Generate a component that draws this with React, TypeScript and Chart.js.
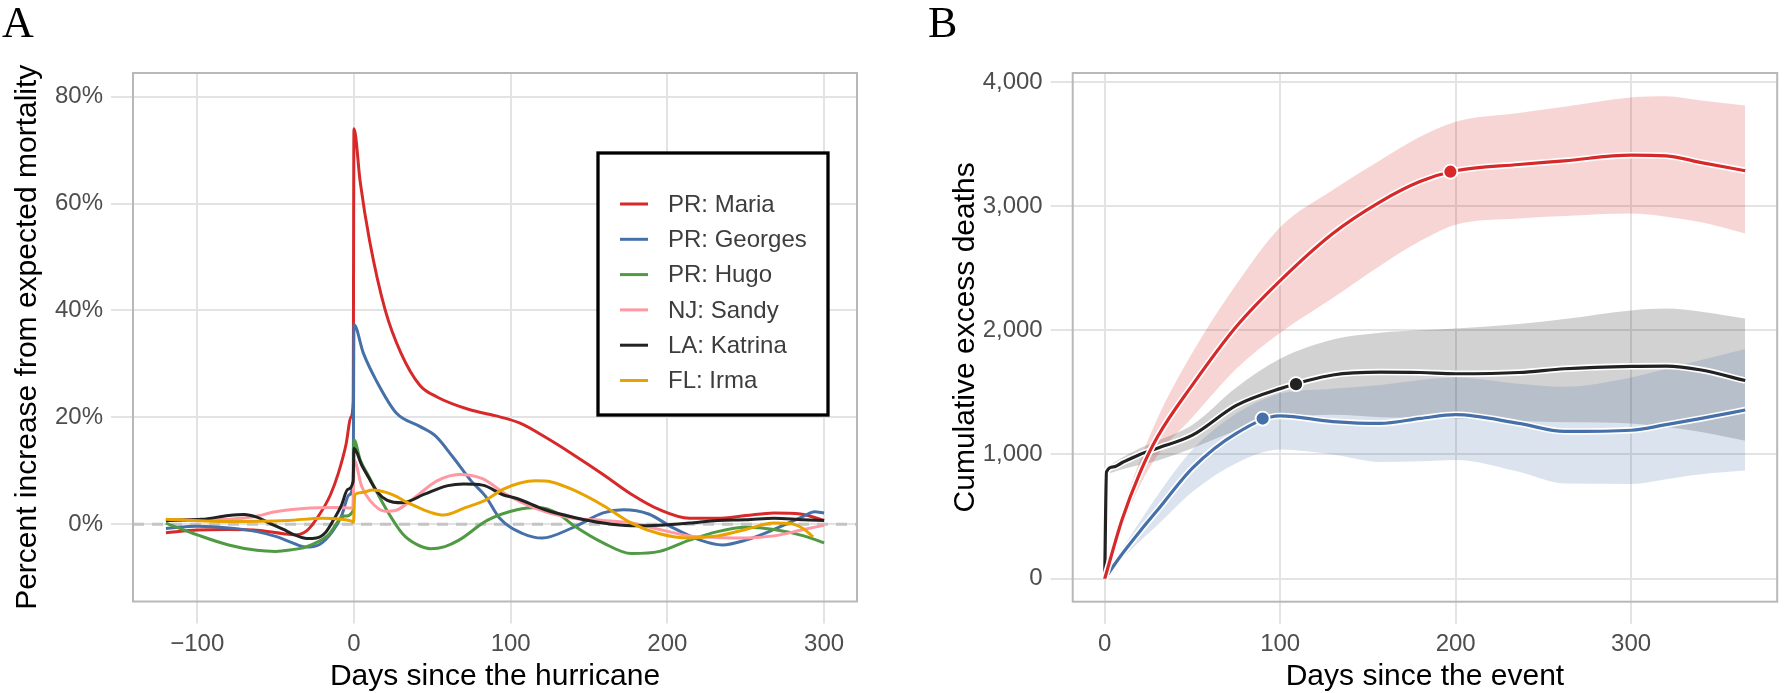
import React, { useEffect, useRef } from 'react';
import { Chart, registerables } from 'chart.js';

Chart.register(...registerables);

const FONT = "'Liberation Sans', Arial, sans-serif";
const SERIF = "'Liberation Serif', 'Times New Roman', serif";
const GRID = '#e3e3e3';
const BORDER = '#b8b8b8';
const TICK_TEXT = '#4d4d4d';

// ---------- Panel A data: [day, percent] ----------
const hurricaneLabels = ['PR: Maria', 'PR: Georges', 'PR: Hugo', 'NJ: Sandy', 'LA: Katrina', 'FL: Irma'];
const hurricaneColors = ['#d7292a', '#4670a8', '#4f9a42', '#ff98a3', '#222222', '#e9a300'];

const maria = [[-120, -1.6], [-100, -1.1], [-80, -1.0], [-60, -1.2], [-45, -1.8], [-38, -2.0], [-30, -1.2], [-22, 1.8], [-15, 5.5], [-10, 9.5], [-5, 15], [-2, 20], [-0.5, 23], [0, 74], [4, 64], [10, 53], [20, 40], [30, 32], [42, 26], [53, 23.8], [74, 21.4], [90, 20.3], [106, 18.9], [122, 16.3], [140, 13], [159, 9.3], [177, 5.6], [195, 2.7], [214, 1.1], [232, 1.1], [250, 1.6], [268, 2.1], [285, 1.9], [300, 0.7]];
const georges = [[-120, -0.8], [-100, -0.4], [-80, -0.7], [-62, -1.4], [-50, -2.3], [-40, -3.4], [-31, -4.3], [-22, -3.8], [-14, -1.5], [-8, 1.5], [-3, 5.5], [-0.5, 8], [0, 37.3], [6, 32], [14, 27], [27, 20.8], [42, 18.3], [52, 16.5], [63, 12.6], [75, 8], [84, 5.2], [93, 1.1], [108, -1.8], [120, -2.6], [140, -0.6], [159, 2.1], [172, 2.7], [188, 1.9], [203, -0.6], [221, -3], [235, -3.9], [250, -3], [268, -1], [287, 1.5], [294, 2.3], [300, 2.1]];
const hugo = [[-120, 0.2], [-100, -2.0], [-80, -3.9], [-62, -4.9], [-50, -5.1], [-40, -4.8], [-31, -4.3], [-17, -2.2], [-6, 1.5], [-0.5, 2.5], [0, 15.8], [4, 12], [9, 9.2], [20, 3.1], [31, -1.8], [40, -3.8], [49, -4.6], [58, -4.2], [67, -3], [85, 0.7], [104, 2.7], [118, 3.1], [130, 2.0], [140, -0.2], [159, -3.5], [177, -5.5], [195, -5.1], [214, -3], [232, -1.4], [250, -0.6], [268, -1], [287, -2.2], [300, -3.5]];
const sandy = [[-120, 0.8], [-97, 0.8], [-64, 1.4], [-50, 2.3], [-28, 3.0], [-13, 3.1], [-0.5, 3.0], [0, 12], [5, 7], [10, 4.5], [20, 2.4], [27, 2.6], [38, 4.8], [53, 8.1], [67, 9.3], [82, 8.5], [97, 5.6], [118, 2.7], [140, 1.1], [159, 0.7], [177, 0.2], [195, -1], [214, -2.2], [232, -2.5], [250, -2.6], [268, -2.2], [287, -1], [300, -0.2]];
const katrina = [[-120, 0.7], [-97, 0.9], [-80, 1.6], [-70, 1.8], [-62, 1.3], [-54, 0.2], [-45, -1.0], [-38, -2.0], [-30, -2.7], [-24, -2.6], [-18, -1.5], [-13, 0.8], [-8, 3.5], [-4, 6.5], [-0.5, 8], [0, 14.2], [5, 11], [9, 8.9], [15, 6], [21, 4.5], [31, 4], [45, 5.6], [60, 7.2], [70, 7.5], [82, 7.3], [95, 5.5], [104, 4.8], [122, 2.7], [140, 1.3], [159, 0.2], [177, -0.3], [195, -0.2], [214, 0.2], [232, 0.7], [250, 0.8], [268, 1.1], [287, 0.8], [300, 0.7]];
const irma = [[-120, 0.9], [-80, 0.5], [-42, 0.7], [-20, 1.1], [-2, 0.6], [-0.3, 0.3], [0.5, 5.5], [5, 5.9], [12, 6.4], [20, 6.0], [27, 5.2], [33, 4.2], [42, 3.0], [50, 2.1], [57, 1.7], [71, 3.1], [84, 4.5], [95, 6.5], [106, 7.7], [116, 8.1], [126, 7.9], [140, 6.4], [159, 3.5], [177, 0.2], [195, -1.8], [214, -2.6], [232, -2.2], [250, -1], [268, 0.2], [278, 0.1], [287, -0.9], [293, -2.4]];
const hurricaneSeries = [maria, georges, hugo, sandy, katrina, irma];

const xTicksA = [-100, 0, 100, 200, 300];
const yTicksA = [0, 20, 40, 60, 80];
const xRangeA = [-141, 321];
const yRangeA = [-14.48, 84.43];

// ---------- Panel B data ----------
const bDays = [0, 10, 20, 30, 50, 75, 100, 130, 157, 180, 200, 236, 262, 300, 320, 340, 365];
const mariaCum = [0, 480, 850, 1140, 1560, 2030, 2400, 2780, 3035, 3200, 3285, 3335, 3365, 3410, 3405, 3350, 3285];
const mariaUpper = [0, 540, 950, 1290, 1820, 2370, 2830, 3130, 3370, 3560, 3680, 3750, 3800, 3875, 3885, 3850, 3810];
const mariaLower = [0, 420, 750, 990, 1300, 1690, 1980, 2260, 2520, 2720, 2850, 2900, 2920, 2940, 2915, 2870, 2780];

const georgesCum = [0, 200, 380, 550, 890, 1170, 1310, 1265, 1250, 1290, 1320, 1250, 1185, 1195, 1240, 1290, 1358];
const georgesUpper = [0, 240, 460, 670, 1040, 1330, 1490, 1530, 1560, 1600, 1620, 1570, 1545, 1620, 1690, 1760, 1850];
const georgesLower = [0, 160, 300, 430, 700, 930, 1040, 1000, 940, 945, 955, 860, 765, 762, 800, 840, 870];

const katrinaDays = [0, 1, 5, 10, 20, 30, 50, 75, 100, 130, 157, 180, 200, 236, 262, 300, 320, 340, 365];
const katrinaCum = [0, 860, 900, 935, 1000, 1050, 1155, 1395, 1530, 1640, 1663, 1660, 1650, 1660, 1690, 1710, 1712, 1680, 1595];
const katrinaBandDays = [1, 10, 20, 30, 50, 75, 100, 130, 157, 180, 200, 236, 262, 300, 320, 340, 365];
const katrinaUpper = [895, 975, 1050, 1110, 1240, 1540, 1770, 1925, 1980, 2000, 2015, 2050, 2090, 2160, 2175, 2150, 2095];
const katrinaLower = [840, 880, 915, 950, 1050, 1190, 1290, 1320, 1300, 1295, 1290, 1270, 1260, 1250, 1220, 1180, 1110];

const markerMaria = [197, 3277];
const markerKatrina = [109, 1566];
const markerGeorges = [90, 1289];

const xTicksB = [0, 100, 200, 300];
const yTicksB = [0, 1000, 2000, 3000, 4000];
const xRangeB = [-18.25, 383.25];
const yRangeB = [-186, 4072];

// ---------- helpers ----------
const pts = (arr: number[][]) => arr.map(([x, y]) => ({ x, y }));
const zip = (xs: number[], ys: number[]) => xs.map((x, i) => ({ x, y: ys[i] }));
const minusFmt = (v: number) => (v < 0 ? '\u2212' + Math.abs(v) : String(v));
const thousands = (v: number) => v.toLocaleString('en-US');

function gridOpts() {
  return { color: GRID, lineWidth: 2, drawTicks: true, tickLength: 22, tickColor: GRID, tickWidth: 2 };
}

function framePlugin(tag: string, tagX: number, withLegend: boolean) {
  return {
    id: 'frame_' + tag,
    afterDatasetsDraw(chart: any) {
      const { ctx, chartArea: ca } = chart;
      ctx.save();
      ctx.strokeStyle = BORDER;
      ctx.lineWidth = 2;
      ctx.strokeRect(ca.left, ca.top, ca.right - ca.left, ca.bottom - ca.top);
      if (withLegend) {
        const bx = ca.left + 465, by = ca.top + 80, bw = 230, bh = 262;
        ctx.fillStyle = '#ffffff';
        ctx.fillRect(bx, by, bw, bh);
        ctx.strokeStyle = '#000000';
        ctx.lineWidth = 3.3;
        ctx.strokeRect(bx, by, bw, bh);
        ctx.font = `24px ${FONT}`;
        ctx.textBaseline = 'middle';
        ctx.textAlign = 'left';
        hurricaneLabels.forEach((lab, i) => {
          const y = by + 51 + i * 35.3;
          ctx.strokeStyle = hurricaneColors[i];
          ctx.lineWidth = 3;
          ctx.beginPath();
          ctx.moveTo(bx + 22, y);
          ctx.lineTo(bx + 50, y);
          ctx.stroke();
          ctx.fillStyle = '#3d3d3d';
          ctx.fillText(lab, bx + 70, y + 1);
        });
      }
      ctx.restore();
    },
    afterDraw(chart: any) {
      const { ctx } = chart;
      ctx.save();
      ctx.fillStyle = '#000';
      ctx.font = `44px ${SERIF}`;
      ctx.textBaseline = 'alphabetic';
      ctx.textAlign = 'left';
      ctx.fillText(tag, tagX, 37);
      ctx.restore();
    },
  };
}

function buildA(canvas: HTMLCanvasElement) {
  const datasets: any[] = [
    {
      label: 'zero',
      data: [{ x: xRangeA[0], y: 0 }, { x: xRangeA[1], y: 0 }],
      borderColor: '#c4c4c4',
      borderWidth: 3,
      borderDash: [11, 8],
      pointRadius: 0,
      order: 100,
    },
  ];
  hurricaneSeries.forEach((s, i) => {
    datasets.push({
      label: hurricaneLabels[i],
      data: pts(s),
      borderColor: hurricaneColors[i],
      borderWidth: 3,
      pointRadius: 0,
      cubicInterpolationMode: 'monotone',
      fill: false,
      order: 20 - i,
    });
  });
  return new Chart(canvas, {
    type: 'line',
    data: { datasets },
    plugins: [framePlugin('A', 2, true)],
    options: {
      animation: false,
      responsive: false,
      devicePixelRatio: 1,
      layout: { padding: { top: 73, right: 36, left: 0, bottom: 0 } },
      plugins: { legend: { display: false }, tooltip: { enabled: false } },
      scales: {
        x: {
          type: 'linear',
          min: xRangeA[0],
          max: xRangeA[1],
          afterBuildTicks: (s: any) => { s.ticks = xTicksA.map((v) => ({ value: v })); },
          afterFit: (s: any) => { s.height = 91.5; },
          grid: gridOpts(),
          border: { display: false },
          ticks: { autoSkip: false, maxRotation: 0, padding: 6, color: TICK_TEXT, font: { family: FONT, size: 24 }, callback: (v: any) => minusFmt(Number(v)) },
          title: { display: true, text: 'Days since the hurricane', color: '#000', font: { family: FONT, size: 30, lineHeight: 1.1 }, padding: { top: 0, bottom: 0 } },
        },
        y: {
          type: 'linear',
          min: yRangeA[0],
          max: yRangeA[1],
          afterBuildTicks: (s: any) => { s.ticks = yTicksA.map((v) => ({ value: v })); },
          afterFit: (s: any) => { s.width = 133; },
          grid: gridOpts(),
          border: { display: false },
          ticks: { autoSkip: false, padding: 8, color: TICK_TEXT, font: { family: FONT, size: 24 }, callback: (v: any) => `${v}%` },
          title: { display: true, text: 'Percent increase from expected mortality', color: '#000', font: { family: FONT, size: 30 }, padding: { top: 10, bottom: 0 } },
        },
      },
    } as any,
  });
}

function buildB(canvas: HTMLCanvasElement) {
  const band = (up: any[], lo: any[], fillColor: string, order: number) => [
    { data: up, borderWidth: 0, borderColor: 'rgba(0,0,0,0)', pointRadius: 0, cubicInterpolationMode: 'monotone', backgroundColor: fillColor, fill: '+1', order },
    { data: lo, borderWidth: 0, borderColor: 'rgba(0,0,0,0)', pointRadius: 0, cubicInterpolationMode: 'monotone', fill: false, order },
  ];
  const line = (d: any[], color: string, order: number) => [
    { data: d, borderColor: '#ffffff', borderWidth: 6.5, pointRadius: 0, cubicInterpolationMode: 'monotone', fill: false, order: order + 1 },
    { data: d, borderColor: color, borderWidth: 3.2, pointRadius: 0, cubicInterpolationMode: 'monotone', fill: false, order },
  ];
  const marker = (m: number[], color: string) => ({
    data: [{ x: m[0], y: m[1] }], showLine: false, pointRadius: 7, pointBorderWidth: 1.8,
    pointBackgroundColor: color, pointBorderColor: '#ffffff', borderColor: color, order: 1,
  });
  const datasets: any[] = [
    ...band(zip(katrinaBandDays, katrinaUpper), zip(katrinaBandDays, katrinaLower), 'rgba(0,0,0,0.175)', 60),
    ...band(zip(bDays, georgesUpper), zip(bDays, georgesLower), 'rgba(63,111,166,0.19)', 59),
    ...band(zip(bDays, mariaUpper), zip(bDays, mariaLower), 'rgba(214,43,43,0.2)', 58),
    ...line(zip(bDays, georgesCum), '#4670a8', 30),
    ...line(zip(katrinaDays, katrinaCum), '#222222', 20),
    ...line(zip(bDays, mariaCum), '#d7292a', 10),
    marker(markerMaria, '#d7292a'),
    marker(markerKatrina, '#222222'),
    marker(markerGeorges, '#4670a8'),
  ];
  return new Chart(canvas, {
    type: 'line',
    data: { datasets },
    plugins: [framePlugin('B', 35, false)],
    options: {
      animation: false,
      responsive: false,
      devicePixelRatio: 1,
      layout: { padding: { top: 73, right: 2, left: 0, bottom: 0 } },
      plugins: { legend: { display: false }, tooltip: { enabled: false } },
      scales: {
        x: {
          type: 'linear',
          min: xRangeB[0],
          max: xRangeB[1],
          afterBuildTicks: (s: any) => { s.ticks = xTicksB.map((v) => ({ value: v })); },
          afterFit: (s: any) => { s.height = 91.3; },
          grid: gridOpts(),
          border: { display: false },
          ticks: { autoSkip: false, maxRotation: 0, padding: 6, color: TICK_TEXT, font: { family: FONT, size: 24 }, callback: (v: any) => minusFmt(Number(v)) },
          title: { display: true, text: 'Days since the event', color: '#000', font: { family: FONT, size: 30, lineHeight: 1.1 }, padding: { top: 0, bottom: 0 } },
        },
        y: {
          type: 'linear',
          min: yRangeB[0],
          max: yRangeB[1],
          afterBuildTicks: (s: any) => { s.ticks = yTicksB.map((v) => ({ value: v })); },
          afterFit: (s: any) => { s.width = 179.7; },
          grid: gridOpts(),
          border: { display: false },
          ticks: { autoSkip: false, padding: 8, color: TICK_TEXT, font: { family: FONT, size: 24 }, callback: (v: any) => thousands(Number(v)) },
          title: { display: true, text: 'Cumulative excess deaths', color: '#000', font: { family: FONT, size: 30 }, padding: { top: 55, bottom: 0 } },
        },
      },
    } as any,
  });
}

export default function App() {
  const refA = useRef<HTMLCanvasElement>(null);
  const refB = useRef<HTMLCanvasElement>(null);
  useEffect(() => {
    const a = buildA(refA.current!);
    const b = buildB(refB.current!);
    return () => {
      a.destroy();
      b.destroy();
    };
  }, []);
  return (
    <div style={{ position: 'absolute', left: 0, top: 0, width: 1786, height: 693, background: '#ffffff' }}>
      <canvas ref={refA} width={893} height={693} style={{ position: 'absolute', left: 0, top: 0, width: 893, height: 693 }} />
      <canvas ref={refB} width={893} height={693} style={{ position: 'absolute', left: 893, top: 0, width: 893, height: 693 }} />
    </div>
  );
}
